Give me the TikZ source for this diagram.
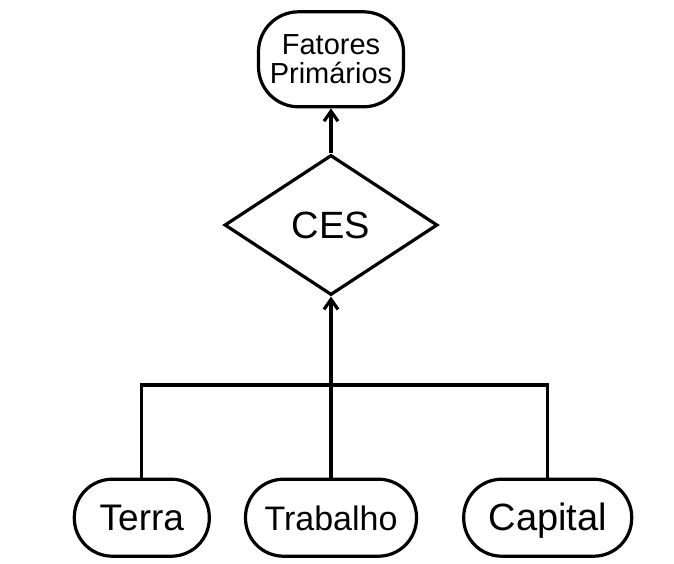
\documentclass[tikz,border=0pt]{standalone}
\usepackage{fontspec}
\setmainfont{Liberation Sans}
\usetikzlibrary{arrows.meta,positioning,shapes.geometric}

\begin{document}
\begin{tikzpicture}[x=1pt,y=-1pt,line width=3.2pt,
  fator/.style={draw,rounded corners=38pt,minimum height=77pt,inner sep=0pt,
    text height=26pt,text depth=0pt},
  seta/.style={-{Straight Barb[length=10pt,width=14pt]}}]
\useasboundingbox (0,0) rectangle (674,563);
\node[draw,diamond,minimum width=213pt,minimum height=140pt,inner sep=0pt,
  font=\fontsize{38}{40}\selectfont] (ces) at (331,225) {CES};
\node[draw,rounded corners=40pt,minimum width=145pt,minimum height=95pt,align=center,
  inner sep=0pt,font=\fontsize{29}{29}\selectfont] (fatores) [above=45pt of ces]
{Fatores\\Primários};
\node[fator,minimum width=171pt,font=\fontsize{34}{36}\selectfont] (trabalho) [below=181pt of ces]
{Trabalho};
\node[fator,minimum width=135pt,font=\fontsize{37}{40}\selectfont] (terra) [left=33pt of trabalho]
{Terra};
\node[fator,minimum width=168pt,font=\fontsize{38}{40}\selectfont] (capital) [right=44pt of trabalho]
{Capital};
\coordinate (juncao) at (331,385);
\draw (terra.north) -- (terra.north |- juncao) -- (capital.north |- juncao) -- (capital.north);
\draw[seta] (trabalho) -- (ces);
\draw[seta] (ces) -- (fatores);
\end{tikzpicture}
\end{document}
